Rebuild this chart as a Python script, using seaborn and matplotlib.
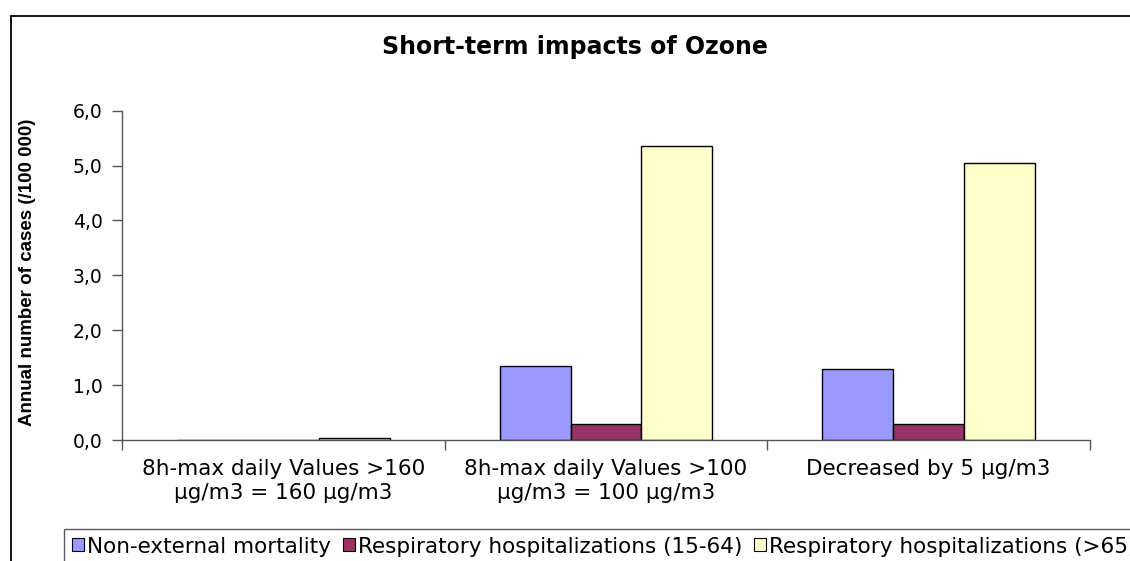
import matplotlib
matplotlib.use("Agg")
import matplotlib.pyplot as plt
from matplotlib.lines import Line2D
from matplotlib.patches import Patch
import seaborn as sns
import pandas as pd

categories = ["8h-max daily Values >160\nµg/m3 = 160 µg/m3",
              "8h-max daily Values >100\nµg/m3 = 100 µg/m3",
              "Decreased by 5 µg/m3"]
series = ["Non-external mortality",
          "Respiratory hospitalizations (15-64)",
          "Respiratory hospitalizations (>65)"]
mortality = [0.0, 1.34, 1.29]
resp_15_64 = [0.0, 0.29, 0.29]
resp_65 = [0.04, 5.36, 5.05]
colors = ["#9999FF", "#993366", "#FFFFCC"]
yticks = [0, 1, 2, 3, 4, 5, 6]

rows = []
for s, vals in zip(series, [mortality, resp_15_64, resp_65]):
    for c, v in zip(categories, vals):
        rows.append({"cat": c, "series": s, "value": v})
df = pd.DataFrame(rows)

sns.set_theme(style="white")
plt.rcParams["font.family"] = ["DejaVu Sans"]
plt.rcParams["text.color"] = "black"
plt.rcParams["xtick.labelcolor"] = "black"
plt.rcParams["ytick.labelcolor"] = "black"

W, H = 1130, 561
fig = plt.figure(figsize=(W / 100, H / 100), dpi=100)
ax = fig.add_axes([122 / W, 1 - 440 / H, (1090 - 122) / W, (440 - 110.7) / H])

sns.barplot(data=df, x="cat", y="value", hue="series", order=categories,
            hue_order=series, palette=colors, edgecolor="black", linewidth=1.0,
            width=0.66, ax=ax, legend=False, saturation=1)

ax.set_xlim(-0.5, 2.5)
ax.set_ylim(0, 6)
ax.set_yticks(yticks)
ax.set_yticklabels([f"{v:.1f}".replace(".", ",") for v in yticks], fontsize=13.5, color="black")
ax.set_xticks([-0.5, 0.5, 1.5, 2.5])
ax.set_xticklabels([])
ax.set_xticks([0, 1, 2], minor=True)
ax.set_xticklabels(categories, minor=True, fontsize=15.5, linespacing=1.25, color="black")
ax.tick_params(axis="x", which="minor", length=0, pad=14, bottom=False)
ax.tick_params(axis="x", which="major", length=7, direction="out", color="#555555", width=1, bottom=True)
ax.tick_params(axis="y", length=7, direction="out", color="#555555", width=1, pad=7, left=True)
for sp in ["top", "right"]:
    ax.spines[sp].set_visible(False)
for sp in ["left", "bottom"]:
    ax.spines[sp].set_color("#555555")
    ax.spines[sp].set_linewidth(1)
ax.set_xlabel("")
ax.set_ylabel("")
fig.text(28 / W, 1 - 272 / H, "Annual number of cases (/100 000)", rotation=90,
         ha="center", va="center", fontsize=13.5, fontweight="bold", color="black",
         family=["Liberation Sans", "DejaVu Sans"])
fig.text((377 + 773) / 2 / W, 1 - 47 / H, "Short-term impacts of Ozone",
         ha="center", va="center", fontsize=17, fontweight="bold", color="black")

# outer chart frame
fig.add_artist(Line2D([11 / W, 11 / W], [0, 1 - 16 / H], transform=fig.transFigure, color="black", lw=1.3))
fig.add_artist(Line2D([11 / W, 1], [1 - 16 / H, 1 - 16 / H], transform=fig.transFigure, color="black", lw=1.3))

handles = [Patch(facecolor=c, edgecolor="black", linewidth=0.8) for c in colors]
leg = fig.legend(handles, series, loc="upper left", bbox_to_anchor=(64 / W, 1 - 529 / H),
                 ncol=3, frameon=True, fancybox=False, edgecolor="#333333",
                 prop={"size": 15.5}, labelcolor="black",
                 handlelength=0.56, handleheight=0.56, handletextpad=0.15, columnspacing=0.55,
                 borderpad=0.35, borderaxespad=0)
leg.get_frame().set_linewidth(1.0)

fig.savefig("out.png", dpi=100)
